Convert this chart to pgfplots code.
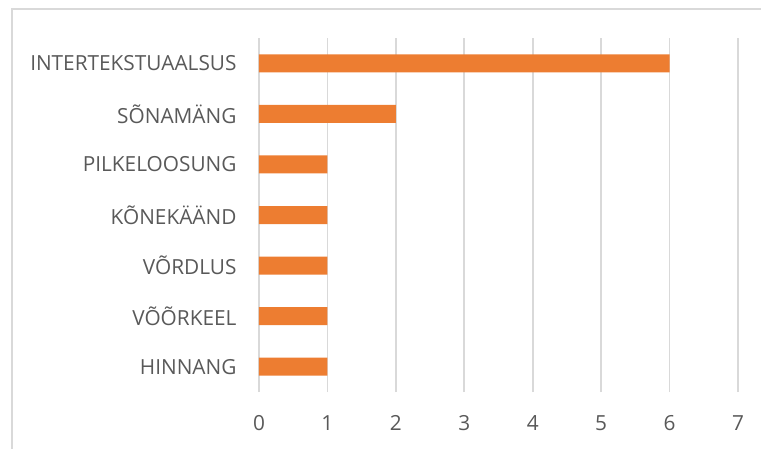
\documentclass[border=0pt]{standalone}
\usepackage{pgfplots}
\pgfplotsset{compat=1.18}
\usepackage{fontspec}
\setmainfont{Open Sans}
\definecolor{barorange}{HTML}{ED7D31}
\definecolor{gridgray}{HTML}{D9D9D9}
\definecolor{txtgray}{HTML}{595959}
\begin{document}
\begin{tikzpicture}[x=1pt,y=1pt]
\useasboundingbox (0,0) rectangle (761,448);
\draw[gridgray, line width=2pt] (12,-10) -- (12,439) -- (775,439);
\begin{axis}[
  at={(259pt,56pt)}, anchor=south west,
  scale only axis, width=479pt, height=354pt,
  xmin=0, xmax=7, ymin=-0.5, ymax=6.5,
  xbar, bar width=18pt, bar shift=0pt,
  axis line style={draw=none},
  xtick={0,1,2,3,4,5,6,7},
  ytick={0,1,2,3,4,5,6},
  yticklabels={HINNANG,VÕÕRKEEL,VÕRDLUS,KÕNEKÄÄND,PILKELOOSUNG,SÕNAMÄNG,INTERTEKSTUAALSUS},
  xmajorgrids, major grid style={gridgray, line width=1.7pt},
  major tick length=0pt,
  tick label style={font=\fontsize{20.8}{24}\selectfont, text=txtgray},
  /pgf/number format/assume math mode=true,
  xticklabel style={yshift=-20pt},
  yticklabel style={xshift=-19pt},
  clip=false,
]
\addplot[fill=barorange, draw=none] coordinates {(1,0) (1,1) (1,2) (1,3) (1,4) (2,5) (6,6)};
\end{axis}
\end{tikzpicture}
\end{document}
